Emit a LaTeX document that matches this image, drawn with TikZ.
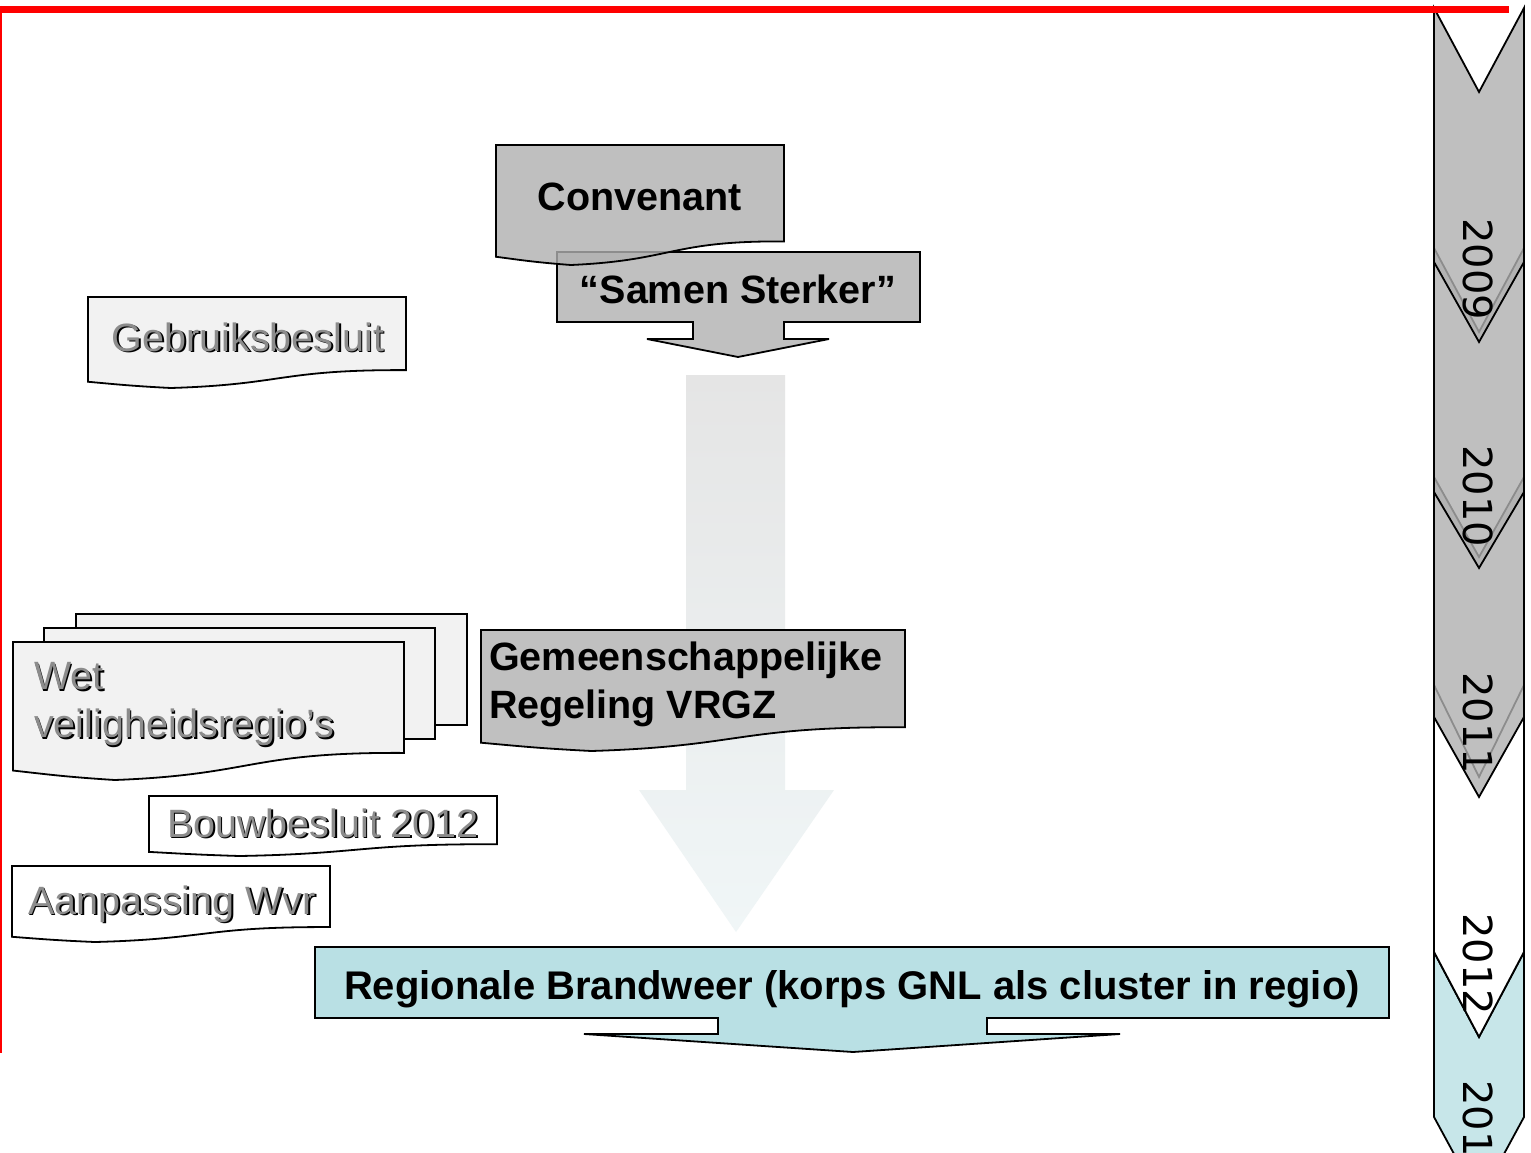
\documentclass[tikz,border=0pt]{standalone}
\usepackage{fontspec}
\setmainfont{Liberation Sans}
\newfontfamily\yearfont{DejaVu Sans}
\definecolor{boxgray}{RGB}{176,176,176}
\definecolor{docgray}{RGB}{192,192,192}
\definecolor{lightdoc}{RGB}{242,242,242}
\definecolor{tealbox}{RGB}{185,224,228}
\definecolor{shtextgray}{RGB}{140,140,140}
\definecolor{arrtop}{RGB}{229,229,229}
\definecolor{arrbot}{RGB}{240,246,247}
\definecolor{redline}{RGB}{255,0,0}
\tikzset{
  outline/.style={draw=black, line width=1.8pt, line join=miter},
  bigbold/.style={font=\fontsize{39.5}{48}\selectfont\bfseries, inner sep=0pt},
  shtxt/.style={font=\fontsize{39.5}{48}\selectfont, inner sep=0pt, text=shtextgray},
  shdw/.style={font=\fontsize{39.5}{48}\selectfont, inner sep=0pt, text=black, xshift=1.6pt, yshift=-1.6pt},
  yearst/.style={font=\yearfont\fontsize{40}{48}\selectfont, inner sep=0pt, rotate=-90, anchor=west},
  chevst/.style={outline, fill opacity=0.8},
}
% document shape: x y w h style
\newcommand\docshape[5]{\path[#5] (#1,#2) -- ++(#3,0) -- ++(0,{0.8037*#4})
  .. controls ({#1+0.6042*#3},{#2+0.7972*#4}) and ({#1+0.6176*#3},{#2+0.9616*#4}) .. ({#1+0.2602*#3},{#2+#4})
  .. controls ({#1+0.1324*#3},{#2+0.9769*#4}) and ({#1+0.0856*#3},{#2+0.9583*#4}) .. (#1,{#2+0.9315*#4}) -- cycle;}
% chevron: top notch bottom point style
\newcommand\chev[5]{\path[#5] (1434,#1) -- (1479,#2) -- (1524,#1) -- (1524,#3) -- (1479,#4) -- (1434,#3) -- cycle;}
\begin{document}
\begin{tikzpicture}[x=1pt,y=-1pt]
\useasboundingbox (0,0) rectangle (1531,1153);
\fill[white] (0,0) rectangle (1531,1153);

% timeline chevrons (back to front)
\chev{952}{1037}{1117}{1200}{chevst, fill=tealbox}
\chev{685}{777}{952}{1037}{chevst, fill=white}
\chev{477}{557}{717}{797}{chevst, fill=boxgray}
\chev{248}{332}{492}{568}{chevst, fill=boxgray}
\chev{8}{92}{262}{342}{chevst, fill=boxgray}

% red frame lines
\draw[redline, line width=7pt] (0,9.5) -- (1509,9.5);
\draw[redline, line width=2pt] (1,6) -- (1,1053);

% years
\node[yearst] (y2009) at (1478,218) {2009};
\node[yearst] (y2010) at (1478,445) {2010};
\node[yearst] (y2011) at (1478,672) {2011};
\node[yearst] (y2012) at (1478,913) {2012};
\node[yearst] (y2013) at (1478,1080) {201};

% big faded arrow
\path[top color=arrtop, bottom color=arrbot] (686,375) -- (785,375) -- (785,790) -- (834,790) -- (736,932) -- (639,790) -- (686,790) -- cycle;

% Samen Sterker callout (behind Convenant)
\path[outline, fill=docgray] (557,252) -- (920,252) -- (920,322) -- (784,322) -- (784,339) -- (829,339) -- (738,357) -- (647,339) -- (693,339) -- (693,322) -- (557,322) -- cycle;
% Convenant document
\docshape{496}{145}{288}{120}{outline, fill=boxgray, fill opacity=0.8}
\node[bigbold, anchor=base] (conv) at (640,210) {Convenant};
\node[bigbold, anchor=base] (samen) at (738,303) {“Samen Sterker”};

% Gebruiksbesluit
\docshape{88}{297}{318}{91}{outline, fill=lightdoc}
\node[shdw, anchor=base] (gebr-s) at (248,351) {Gebruiksbesluit};
\node[shtxt, anchor=base] (gebr) at (248,351) {Gebruiksbesluit};

% Wet veiligheidsregio's (multi document)
\path[outline, fill=lightdoc] (76,614) rectangle (467,725);
\path[outline, fill=lightdoc] (44,628) rectangle (435,739);
\docshape{13}{642}{391}{138}{outline, fill=lightdoc}
\node[shdw, align=left, anchor=north west] (wet-s) at (34,662.5) {Wet\\veiligheidsregio’s};
\node[shtxt, align=left, anchor=north west] (wet) at (34,662.5) {Wet\\veiligheidsregio’s};

% Gemeenschappelijke Regeling VRGZ
\docshape{481}{630}{424}{121}{outline, fill=docgray}
\node[bigbold, align=left, anchor=north west] (gr) at (489,641.5) {Gemeenschappelijke\\Regeling VRGZ};

% Bouwbesluit 2012
\docshape{149}{796}{348}{60}{outline, fill=white}
\node[shdw, anchor=base] (bouw-s) at (323,837) {Bouwbesluit 2012};
\node[shtxt, anchor=base] (bouw) at (323,837) {Bouwbesluit 2012};

% Aanpassing Wvr
\docshape{12}{866}{318}{76}{outline, fill=white}
\node[shdw, anchor=base] (aanp-s) at (172,914) {Aanpassing Wvr};
\node[shtxt, anchor=base] (aanp) at (172,914) {Aanpassing Wvr};

% Regionale Brandweer callout
\path[outline, fill=tealbox] (315,947) -- (1389,947) -- (1389,1018) -- (987,1018) -- (987,1034) -- (1120,1034) -- (853,1052) -- (584,1034) -- (718,1034) -- (718,1018) -- (315,1018) -- cycle;
\node[bigbold, font=\fontsize{40}{48}\selectfont\bfseries, anchor=base] (reg) at (852,999) {Regionale Brandweer (korps GNL als cluster in regio)};
\end{tikzpicture}
\end{document}
